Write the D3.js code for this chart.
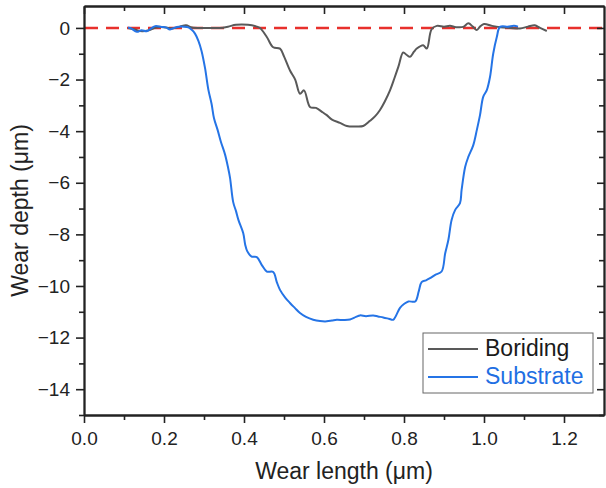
<!DOCTYPE html>
<html>
<head>
<meta charset="utf-8">
<script src="https://cdn.jsdelivr.net/npm/d3@7"></script>
<style>
  body { margin: 0; background: #fff; }
  svg { font-family: "Liberation Sans", Arial, sans-serif; }
</style>
</head>
<body>
<div id="chart"></div>
<script>
var w = 606,
    h = 488;

// Boriding profile (wear length in µm, wear depth in µm)
var boridingX = [0.11, 0.125, 0.14, 0.16, 0.18, 0.20, 0.22, 0.24, 0.255, 0.27, 0.30, 0.34, 0.36, 0.38, 0.41, 0.43, 0.44,
  0.457, 0.473, 0.49, 0.50, 0.515, 0.528, 0.54, 0.55, 0.565, 0.58, 0.595, 0.607, 0.62, 0.64, 0.657, 0.68, 0.698,
  0.715, 0.728, 0.74, 0.752, 0.765, 0.776, 0.786, 0.798, 0.807, 0.815, 0.825, 0.832, 0.848, 0.857, 0.869, 0.882,
  0.90, 0.915, 0.93, 0.948, 0.961, 0.972, 0.982, 0.99, 1.0, 1.02, 1.04, 1.065, 1.09, 1.11, 1.127, 1.14, 1.157];
var boridingY = [0, -0.05, -0.12, -0.1, 0.02, 0.03, -0.02, 0.05, 0.1, 0.02, 0, 0, 0.05, 0.12, 0.12, 0.06, 0,
  -0.35, -0.75, -0.8, -1.1, -1.65, -2.0, -2.55, -2.42, -3.06, -3.1, -3.25, -3.38, -3.55, -3.68, -3.8, -3.82, -3.8,
  -3.6, -3.42, -3.18, -2.85, -2.42, -1.95, -1.5, -0.95, -1.05, -1.12, -0.92, -0.8, -0.67, -0.8, -0.05, 0.08,
  0.05, 0.08, 0.03, 0.04, 0.18, 0.05, -0.08, 0.05, 0.15, 0.08, 0.03, 0.0, -0.02, 0.05, 0.1, 0.0, -0.12];

// Substrate profile
var substrateX = [0.11, 0.118, 0.132, 0.144, 0.157, 0.168, 0.178, 0.194, 0.205, 0.215, 0.232, 0.25, 0.261, 0.27,
  0.2775, 0.286, 0.294, 0.3025, 0.311, 0.319, 0.325, 0.334, 0.342, 0.3525, 0.36, 0.365, 0.373, 0.38, 0.386, 0.398,
  0.403, 0.408, 0.419, 0.432, 0.445, 0.457, 0.473, 0.482, 0.49, 0.503, 0.515, 0.527, 0.54, 0.555, 0.573, 0.59,
  0.607, 0.62, 0.632, 0.65, 0.665, 0.68, 0.69, 0.705, 0.723, 0.735, 0.748, 0.762, 0.773, 0.78, 0.79, 0.80, 0.811,
  0.828, 0.837, 0.844, 0.855, 0.865, 0.878, 0.894, 0.903, 0.911, 0.919, 0.928, 0.94, 0.944, 0.953, 0.961, 0.973,
  0.982, 0.99, 0.998, 1.007, 1.015, 1.023, 1.032, 1.04, 1.06, 1.075, 1.085];
var substrateY = [0.02, -0.02, -0.15, -0.09, -0.13, -0.02, 0.07, 0.04, 0.02, -0.06, 0.04, 0.05, 0.02, -0.08,
  -0.22, -0.5, -0.9, -1.55, -2.4, -2.95, -3.5, -3.95, -4.4, -4.9, -5.4, -5.8, -6.75, -7.1, -7.44, -7.95,
  -8.4, -8.65, -8.86, -8.88, -9.2, -9.44, -9.46, -9.85, -10.15, -10.45, -10.66, -10.85, -11.05, -11.2, -11.31, -11.36,
  -11.37, -11.34, -11.31, -11.32, -11.3, -11.2, -11.14, -11.17, -11.14, -11.18, -11.22, -11.27, -11.31, -11.15, -10.85, -10.7, -10.6,
  -10.6, -10.2, -9.85, -9.78, -9.7, -9.57, -9.44, -8.73, -8.21, -7.44, -7.05, -6.79, -6.28, -5.38, -4.99, -4.55,
  -3.96, -3.38, -2.67, -2.41, -1.9, -1.0, -0.35, 0.04, 0.05, 0.08, 0.05];

// Tick values
var xMajor = [0.0, 0.2, 0.4, 0.6, 0.8, 1.0, 1.2];
var xMinor = [0.1, 0.3, 0.5, 0.7, 0.9, 1.1];
var yMajor = [0, -2, -4, -6, -8, -10, -12, -14];
var yMinor = [-1, -3, -5, -7, -9, -11, -13, -15];

var LegendOptions = ['Boriding', 'Substrate'];
var grayLine = '#595959';
var blueLine = '#2574e6';
var colors = [grayLine, blueLine];
var textColors = ['#1a1a1a', '#1f6fe3'];

var padL = 84, padR = 604, padT = 6, padB = 415;

var x = d3.scaleLinear().domain([0, 1.3]).range([padL, padR]);
var y = d3.scaleLinear().domain([-15, 0.85]).range([padB, padT]);

var svg = d3.select('#chart')
  .append('svg')
  .attr('width', w)
  .attr('height', h);

//Reference line at zero
svg.append('line')
  .attr('x1', padL + 1)
  .attr('x2', padR)
  .attr('y1', y(0))
  .attr('y2', y(0))
  .attr('stroke', '#e8302c')
  .attr('stroke-width', 2.5)
  .attr('stroke-dasharray', '13,8');

//Curves
var line = d3.line()
  .x(function(d) { return x(d[0]); })
  .y(function(d) { return y(d[1]); })
  .curve(d3.curveCatmullRom.alpha(0.5));

var boriding = boridingX.map(function(v, i) { return [v, boridingY[i]]; });
var substrate = substrateX.map(function(v, i) { return [v, substrateY[i]]; });

svg.append('path')
  .datum(boriding)
  .attr('d', line)
  .attr('fill', 'none')
  .attr('stroke', grayLine)
  .attr('stroke-width', 2);

svg.append('path')
  .datum(substrate)
  .attr('d', line)
  .attr('fill', 'none')
  .attr('stroke', blueLine)
  .attr('stroke-width', 2);

//Axes
function styleAxis(g) {
  g.select('.domain').attr('stroke', '#222').attr('stroke-width', 1.8);
  g.selectAll('.tick line').attr('stroke', '#222').attr('stroke-width', 1.6);
  g.selectAll('.tick text').attr('fill', '#222').attr('font-size', '19px');
}

svg.append('g')
  .attr('transform', 'translate(0,' + padB + ')')
  .call(d3.axisBottom(x).tickValues(xMajor).tickSize(8).tickSizeOuter(0).tickPadding(9).tickFormat(d3.format('.1f')))
  .call(styleAxis);
svg.append('g')
  .attr('transform', 'translate(0,' + padB + ')')
  .call(d3.axisBottom(x).tickValues(xMinor).tickSize(5).tickSizeOuter(0).tickFormat(''))
  .call(styleAxis);

svg.append('g')
  .attr('transform', 'translate(' + padL + ',0)')
  .call(d3.axisLeft(y).tickValues(yMajor).tickSize(8).tickSizeOuter(0).tickPadding(6))
  .call(styleAxis);
svg.append('g')
  .attr('transform', 'translate(' + padL + ',0)')
  .call(d3.axisLeft(y).tickValues(yMinor).tickSize(5).tickSizeOuter(0).tickFormat(''))
  .call(styleAxis);

// top and right frame, ticks inward
svg.append('g')
  .attr('transform', 'translate(0,' + padT + ')')
  .call(d3.axisBottom(x).tickValues(xMajor).tickSize(8).tickSizeOuter(0).tickFormat(''))
  .call(styleAxis);
svg.append('g')
  .attr('transform', 'translate(0,' + padT + ')')
  .call(d3.axisBottom(x).tickValues(xMinor).tickSize(5).tickSizeOuter(0).tickFormat(''))
  .call(styleAxis);
svg.append('g')
  .attr('transform', 'translate(' + padR + ',0)')
  .call(d3.axisLeft(y).tickValues(yMajor).tickSize(7).tickSizeOuter(0).tickFormat(''))
  .call(styleAxis);
svg.append('g')
  .attr('transform', 'translate(' + padR + ',0)')
  .call(d3.axisLeft(y).tickValues(yMinor).tickSize(5).tickSizeOuter(0).tickFormat(''))
  .call(styleAxis);

//Axis titles
svg.append('text')
  .attr('x', (padL + padR) / 2)
  .attr('y', 479)
  .attr('text-anchor', 'middle')
  .attr('font-size', '23px')
  .attr('fill', '#222')
  .text('Wear length (μm)');

svg.append('text')
  .attr('transform', 'translate(28,' + ((padT + padB) / 2) + ') rotate(-90)')
  .attr('text-anchor', 'middle')
  .attr('font-size', '23px')
  .attr('fill', '#222')
  .text('Wear depth (μm)');

//Legend
var legend = svg.append('g')
  .attr('class', 'legend')
  .attr('transform', 'translate(423,333)');

legend.append('rect')
  .attr('width', 170)
  .attr('height', 60)
  .attr('fill', '#fff')
  .attr('stroke', '#666')
  .attr('stroke-width', 1);

legend.selectAll('line')
  .data(LegendOptions)
  .enter()
  .append('line')
  .attr('x1', 5)
  .attr('x2', 55)
  .attr('y1', function(d, i) { return 16 + i * 28; })
  .attr('y2', function(d, i) { return 16 + i * 28; })
  .attr('stroke', function(d, i) { return colors[i]; })
  .attr('stroke-width', 2);

legend.selectAll('text')
  .data(LegendOptions)
  .enter()
  .append('text')
  .attr('x', 62)
  .attr('y', function(d, i) { return 23 + i * 28; })
  .attr('font-size', '23px')
  .attr('fill', function(d, i) { return textColors[i]; })
  .text(function(d) { return d; });
</script>
</body>
</html>
